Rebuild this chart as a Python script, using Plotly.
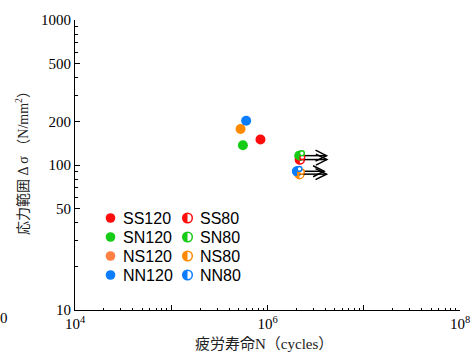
import numpy as np
import plotly.graph_objects as go

# ---------------- data ----------------
names_120 = ["SS120", "SN120", "NS120", "NN120"]
cycles_120 = [8.45e5, 5.55e5, 5.25e5, 6.0e5]
stress_120 = [150, 137, 177, 202]

names_80 = ["SS80", "SN80", "NS80", "NN80"]
cycles_80 = [2.17e6, 2.15e6, 2.15e6, 2.03e6]
stress_80 = [109, 116, 86.5, 90.5]

colors = ["#ff0d0d", "#16cc16", "#ff8a00", "#0a7dff"]
legend_colors_120 = ["#ff0d0d", "#16cc16", "#ff7f45", "#0a7dff"]

y_tickvals = [10, 50, 100, 200, 500, 1000]
x_tickvals = [1e4, 1e5, 1e6, 1e7, 1e8]
x_ticktext = ["10<sup>4</sup>", "", "10<sup>6</sup>", "", "10<sup>8</sup>"]

# ---------------- layout helpers ----------------
W, H = 475, 354
ML, MR, MT, MB = 75, 15, 20, 44
PW, PH = W - ML - MR, H - MT - MB


def px_x(px):
    return (px - ML) / PW


def px_y(py):
    return (H - MB - py) / PH


R = 4.8
ang = np.linspace(np.pi / 2, 3 * np.pi / 2, 25)
half_path = "M " + " L ".join(f"{R*np.cos(a):.2f},{R*np.sin(a):.2f}" for a in ang) + " Z"

fig = go.Figure()

# filled 120 markers
for n, x, y, c in zip(names_120, cycles_120, stress_120, colors):
    fig.add_trace(go.Scatter(x=[x], y=[y], mode="markers", name=n, showlegend=False,
                             marker=dict(size=10, color=c, line=dict(width=0))))
# 80 markers (base traces, overdrawn by half-filled shapes)
for n, x, y, c in zip(names_80, cycles_80, stress_80, colors):
    fig.add_trace(go.Scatter(x=[x], y=[y], mode="markers", name=n, showlegend=False,
                             marker=dict(size=9, color="white", line=dict(width=1.5, color=c))))

shapes = []
# run-out arrows
for x, y in zip(cycles_80, stress_80):
    common = dict(xref="x", yref="y", xsizemode="pixel", ysizemode="pixel",
                  xanchor=x, yanchor=y, layer="above")
    shapes.append(dict(type="line", x0=0, x1=27, y0=0, y1=0,
                       line=dict(color="black", width=1.5), **common))
    shapes.append(dict(type="path", path="M 16,5.5 L 27,0 L 16,-5.5",
                       line=dict(color="black", width=1.5), **common))
# half-filled markers
for x, y, c in zip(cycles_80, stress_80, colors):
    common = dict(xref="x", yref="y", xsizemode="pixel", ysizemode="pixel",
                  xanchor=x, yanchor=y, layer="above")
    shapes.append(dict(type="circle", x0=-R, x1=R, y0=-R, y1=R, fillcolor="white",
                       line=dict(color=c, width=1.5), **common))
    shapes.append(dict(type="path", path=half_path, fillcolor=c,
                       line=dict(width=0), **common))

# custom two-column legend
annotations = []
row_y = [218, 237, 256, 275]
for i in range(4):
    yy = px_y(row_y[i])
    cl = dict(xref="paper", yref="paper", xsizemode="pixel", ysizemode="pixel",
              yanchor=yy, layer="above")
    shapes.append(dict(type="circle", xanchor=px_x(110.5), x0=-R, x1=R, y0=-R, y1=R,
                       fillcolor=legend_colors_120[i], line=dict(width=0), **cl))
    shapes.append(dict(type="circle", xanchor=px_x(187.5), x0=-R, x1=R, y0=-R, y1=R,
                       fillcolor="white", line=dict(color=colors[i], width=1.5), **cl))
    shapes.append(dict(type="path", xanchor=px_x(187.5), path=half_path,
                       fillcolor=colors[i], line=dict(width=0), **cl))
    annotations.append(dict(xref="paper", yref="paper", x=px_x(121), y=yy,
                            xanchor="left", yanchor="middle", showarrow=False,
                            text=names_120[i],
                            font=dict(family="Liberation Sans, Arial", size=16, color="black")))
    annotations.append(dict(xref="paper", yref="paper", x=px_x(198), y=yy,
                            xanchor="left", yanchor="middle", showarrow=False,
                            text=names_80[i],
                            font=dict(family="Liberation Sans, Arial", size=16, color="black")))

# axis titles
annotations.append(dict(xref="paper", yref="paper", x=px_x(264), y=px_y(344),
                        xanchor="center", yanchor="middle", showarrow=False,
                        text="疲労寿命N（cycles）",
                        font=dict(family="Liberation Serif, Noto Sans CJK JP", size=15, color="#222")))
annotations.append(dict(xref="paper", yref="paper", x=px_x(22), y=px_y(160),
                        xanchor="center", yanchor="middle", showarrow=False, textangle=-90,
                        text="応力範囲 Δ σ （N/mm<sup>2</sup>）",
                        font=dict(family="Liberation Serif, Noto Sans CJK JP", size=14, color="#222")))
# stray clipped label at left edge
annotations.append(dict(xref="paper", yref="paper", x=px_x(4), y=px_y(318),
                        xanchor="center", yanchor="middle", showarrow=False, text="0",
                        font=dict(family="Liberation Serif", size=15, color="black")))

minor_y = [v * 10 ** d for d in (1, 2) for v in range(2, 10)]
minor_x = [v * 10 ** d for d in (4, 5, 6, 7) for v in range(2, 10)]

fig.update_layout(
    width=W, height=H,
    margin=dict(l=ML, r=MR, t=MT, b=MB, pad=0, autoexpand=False),
    paper_bgcolor="white", plot_bgcolor="white",
    showlegend=False,
    shapes=shapes, annotations=annotations,
    xaxis=dict(type="log", range=[4, 8], tickvals=x_tickvals, ticktext=x_ticktext,
               automargin=False,
               ticks="inside", ticklen=5, tickcolor="black", tickwidth=1,
               minor=dict(tickvals=minor_x, ticks="inside", ticklen=2.5, tickcolor="black"),
               showline=True, linecolor="black", linewidth=1, showgrid=False, zeroline=False,
               tickfont=dict(family="Liberation Serif", size=15, color="black")),
    yaxis=dict(type="log", range=[1, 3], tickvals=y_tickvals,
               ticktext=[str(v) for v in y_tickvals], automargin=False,
               ticks="inside", ticklen=5, tickcolor="black", tickwidth=1,
               minor=dict(tickvals=minor_y, ticks="inside", ticklen=2.5, tickcolor="black"),
               showline=True, linecolor="black", linewidth=1, showgrid=False, zeroline=False,
               tickfont=dict(family="Liberation Serif", size=15, color="black")),
)

fig.write_html("out.html")
